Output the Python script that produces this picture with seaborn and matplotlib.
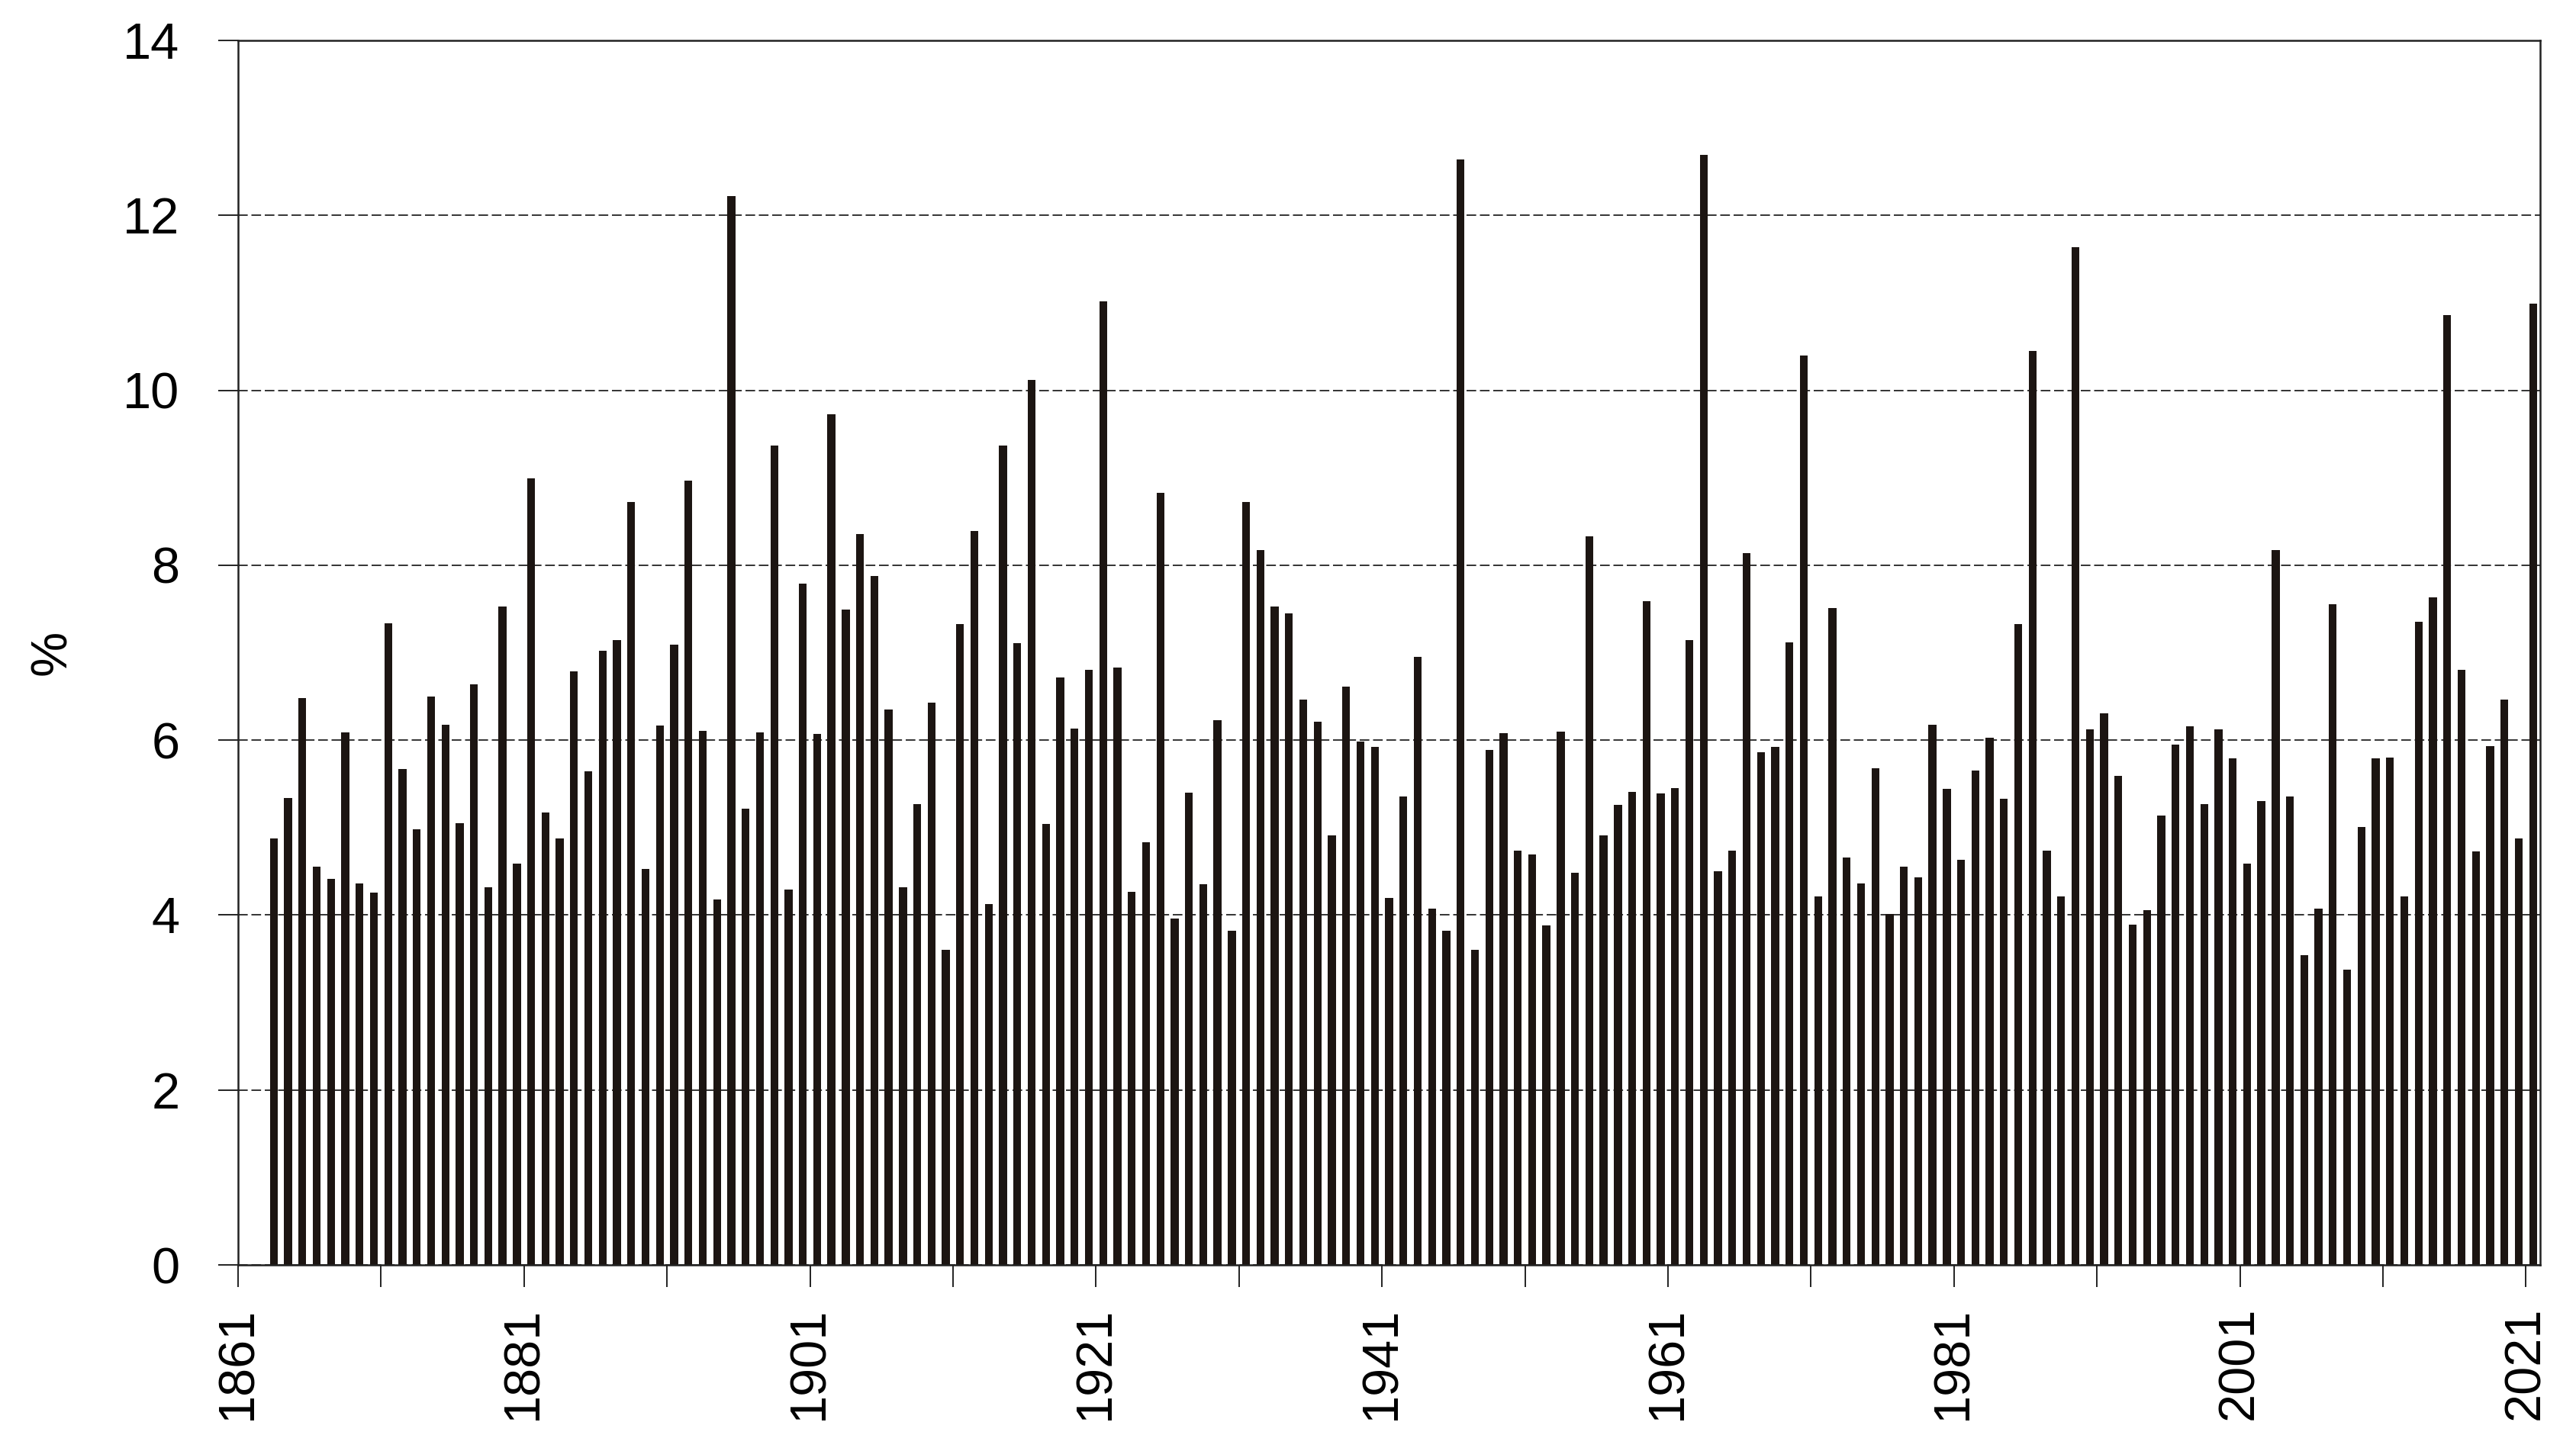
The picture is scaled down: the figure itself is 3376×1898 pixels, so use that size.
import pandas as pd
import matplotlib
matplotlib.use('Agg')
import matplotlib.pyplot as plt
import seaborn as sns

# years shown on the axis (no data for the first two)
axis_years = list(range(1861, 2022))
years = list(range(1863, 2022))

# share in % per year
values = [
    4.88, 5.34, 6.48, 4.55, 4.41, 6.09, 4.36, 4.26, 7.34, 5.67,   # 1863-1872
    4.98, 6.50, 6.18, 5.05, 6.64, 4.32, 7.53, 4.59, 8.99, 5.17,   # 1873-1882
    4.88, 6.79, 5.64, 7.02, 7.14, 8.72, 4.53, 6.17, 7.09, 8.97,   # 1883-1892
    6.11, 4.18, 12.22, 5.22, 6.09, 9.37, 4.29, 7.79, 6.07, 9.73,  # 1893-1902
    7.49, 8.36, 7.88, 6.35, 4.32, 5.27, 6.43, 3.60, 7.33, 8.39,   # 1903-1912
    4.13, 9.37, 7.11, 10.12, 5.04, 6.72, 6.13, 6.80, 11.02, 6.83, # 1913-1922
    4.27, 4.83, 8.83, 3.96, 5.40, 4.35, 6.23, 3.82, 8.72, 8.17,   # 1923-1932
    7.53, 7.45, 6.46, 6.21, 4.91, 6.61, 5.98, 5.92, 4.20, 5.36,   # 1933-1942
    6.95, 4.07, 3.82, 12.64, 3.60, 5.89, 6.08, 4.74, 4.69, 3.88,  # 1943-1952
    6.10, 4.48, 8.33, 4.91, 5.26, 5.41, 7.59, 5.39, 5.45, 7.14,   # 1953-1962
    12.69, 4.50, 4.74, 8.14, 5.86, 5.92, 7.12, 10.40, 4.21, 7.51, # 1963-1972
    4.66, 4.36, 5.68, 4.01, 4.55, 4.43, 6.18, 5.44, 4.63, 5.65,   # 1973-1982
    6.03, 5.33, 7.33, 10.45, 4.74, 4.21, 11.64, 6.12, 6.31, 5.59, # 1983-1992
    3.89, 4.06, 5.14, 5.95, 6.16, 5.27, 6.12, 5.79, 4.59, 5.30,   # 1993-2002
    8.17, 5.36, 3.54, 4.07, 7.55, 3.38, 5.01, 5.79, 5.80, 4.21,   # 2003-2012
    7.35, 7.63, 10.86, 6.80, 4.73, 5.93, 6.46, 4.88, 10.99,       # 2013-2021
]

tick_years = list(range(1861, 2022, 10))
label_years = list(range(1861, 2022, 20))

df = pd.DataFrame({'year': [str(y) for y in years], 'pct': values})

sns.set_theme(style='ticks')
plt.rcParams['font.family'] = ['Liberation Sans', 'DejaVu Sans']

fig = plt.figure(figsize=(33.76, 18.98), dpi=100)
ax = fig.add_axes([0.0924, 0.1264, 0.8937, 0.8457])

sns.barplot(data=df, x='year', y='pct', order=[str(y) for y in axis_years],
            color='#1c1512', saturation=1, width=0.55, errorbar=None,
            edgecolor='none', ax=ax)

# ticks sit on the category boundaries, like the original
ax.set_xlim(-0.5, len(axis_years) - 0.5)
ax.set_xticks([axis_years.index(y) - 0.5 for y in tick_years])
ax.set_xticklabels([str(y) if y in label_years else '' for y in tick_years],
                   rotation=90, fontsize=48, color='black')

ax.set_ylim(0, 14)
ax.set_yticks(range(0, 15, 2))
ax.set_yticklabels([str(v) for v in range(0, 15, 2)], fontsize=48, color='black')

ax.yaxis.grid(True, color='#333333', linewidth=1.4, linestyle=(0, (6.5, 2.5)))
ax.xaxis.grid(False)
ax.set_axisbelow(True)

ax.tick_params(axis='y', direction='out', length=19, width=1.4, pad=36, color='#222222')
ax.tick_params(axis='x', direction='out', length=21, width=1.4, pad=18, color='#222222')

for s in ax.spines.values():
    s.set_visible(True)
    s.set_color('#222222')
    s.set_linewidth(1.8)

ax.set_xlabel('')
ax.set_ylabel('%', fontsize=48, color='black')
ax.yaxis.set_label_coords(-0.0703, 0.5)

fig.savefig('out.png', dpi=100, facecolor='white')
plt.close(fig)
